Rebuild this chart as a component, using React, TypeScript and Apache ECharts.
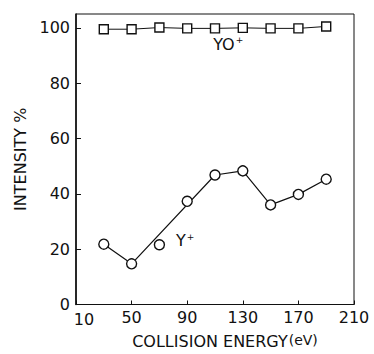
import React, { useEffect, useRef } from "react";
import * as echarts from "echarts";

const energies = [30, 50, 70, 90, 110, 130, 150, 170, 190];
const yoPlus = [99.5, 99.5, 100.1, 99.8, 99.8, 100, 99.8, 99.8, 100.5];
const yPlus = [21.8, 14.7, 21.6, 37.3, 46.8, 48.3, 36, 39.8, 45.3];
const yPlusCurveEnergies = [30, 50, 110, 130, 150, 170, 190];
const yPlusCurve = [21.8, 14.7, 46.8, 48.3, 36, 39.8, 45.3];
const xTicks = [10, 50, 90, 130, 170, 210];
const yTicks = [0, 20, 40, 60, 80, 100];

const FONT = "DejaVu Sans";

export default function App() {
  const ref = useRef<HTMLDivElement>(null);
  useEffect(() => {
    if (!ref.current) return;
    const chart = echarts.init(ref.current, undefined, { renderer: "svg" });
    chart.setOption({
      animation: false,
      backgroundColor: "#fff",
      textStyle: { fontFamily: FONT, color: "#111" },
      grid: {
        left: 76,
        right: 20,
        top: 14,
        bottom: 48,
        show: true,
        borderColor: "#111",
        borderWidth: 1,
      },
      xAxis: {
        type: "value",
        min: xTicks[0],
        max: xTicks[xTicks.length - 1],
        interval: 40,
        splitLine: { show: false },
        axisLine: { lineStyle: { color: "#111", width: 1 } },
        axisTick: { inside: true, length: 4, lineStyle: { color: "#111" } },
        axisLabel: {
          color: "#111",
          fontSize: 16,
          fontFamily: FONT,
          margin: 5,
          formatter: (v: number) => (v === xTicks[0] ? "{first|" + v + "}" : String(v)),
          rich: { first: { fontSize: 16, fontFamily: FONT, color: "#111", padding: [2, 0, 0, 16] } },
        },
        name: "{a|COLLISION ENERGY}{b|(eV)}",
        nameLocation: "middle",
        nameGap: 28,
        nameTextStyle: {
          rich: {
            a: { fontSize: 16, fontFamily: FONT, color: "#111", padding: [0, 0, 0, 20] },
            b: { fontSize: 14, fontFamily: FONT, color: "#111", padding: [0, 0, 3, 1] },
          },
        },
      },
      yAxis: {
        type: "value",
        min: 0,
        max: 105,
        interval: 20,
        splitLine: { show: false },
        axisLine: { lineStyle: { color: "#111", width: 1.6 } },
        axisTick: { inside: true, length: 5, lineStyle: { color: "#111" } },
        axisLabel: {
          color: "#111",
          fontSize: 16,
          fontFamily: FONT,
          margin: 6,
          showMaxLabel: false,
          formatter: (v: number) => (yTicks.includes(v) ? String(v) : ""),
        },
        name: "INTENSITY %",
        nameLocation: "middle",
        nameGap: 48,
        nameTextStyle: { fontSize: 16, fontFamily: FONT, color: "#111" },
      },
      series: [
        {
          name: "YO+",
          type: "line",
          data: energies.map((e, i) => [e, yoPlus[i]]),
          symbol: "rect",
          symbolSize: 9,
          lineStyle: { color: "#111", width: 1 },
          itemStyle: { color: "#fff", borderColor: "#111", borderWidth: 1.4 },
          z: 3,
        },
        {
          name: "Y+ curve",
          type: "line",
          data: yPlusCurveEnergies.map((e, i) => [e, yPlusCurve[i]]),
          showSymbol: false,
          symbol: "none",
          lineStyle: { color: "#111", width: 1.2 },
          z: 2,
        },
        {
          name: "Y+",
          type: "scatter",
          data: energies.map((e, i) => [e, yPlus[i]]),
          symbol: "circle",
          symbolSize: 10,
          itemStyle: { color: "#fff", borderColor: "#111", borderWidth: 1.4, opacity: 1 },
          z: 4,
        },
      ],
    });
    const p1 = chart.convertToPixel({ gridIndex: 0 }, [119.5, 94]) as number[];
    const p2 = chart.convertToPixel({ gridIndex: 0 }, [88.5, 23]) as number[];
    chart.setOption({
      graphic: [
        {
          type: "text",
          x: p1[0],
          y: p1[1],
          style: {
            text: "YO{s|+}",
            fontSize: 16,
            fontFamily: FONT,
            fill: "#111",
            align: "center",
            verticalAlign: "middle",
            rich: { s: { fontSize: 9, fontFamily: FONT, fill: "#111", padding: [0, 0, 8, 1] } },
          },
        },
        {
          type: "text",
          x: p2[0],
          y: p2[1],
          style: {
            text: "Y{s|+}",
            fontSize: 16,
            fontFamily: FONT,
            fill: "#111",
            align: "center",
            verticalAlign: "middle",
            rich: { s: { fontSize: 9, fontFamily: FONT, fill: "#111", padding: [0, 0, 8, 1] } },
          },
        },
      ],
    });
    return () => chart.dispose();
  }, []);
  return <div ref={ref} style={{ width: 374, height: 354, position: "absolute", left: 0, top: 0 }} />;
}
